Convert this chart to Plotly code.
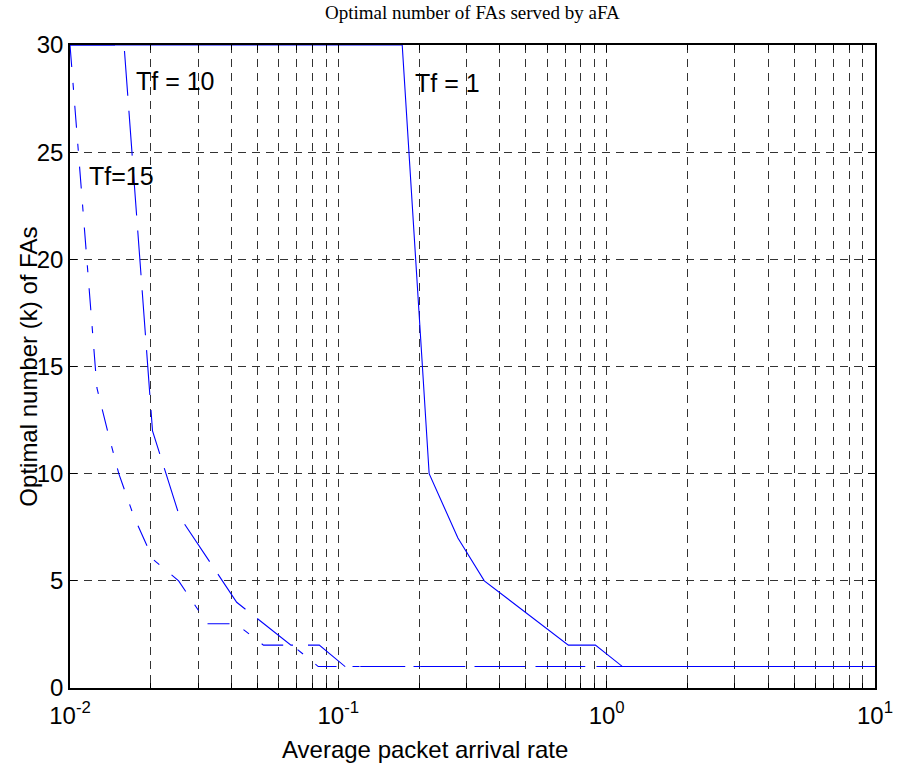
import plotly.graph_objects as go
import math

# Data
tf1_x = [0.01, 0.173, 0.218, 0.279, 0.35, 0.72, 0.908, 1.145, 10]
tf1_y = [30, 30, 10, 7, 5, 2, 2, 1, 1]

tf10_x = [0.01, 0.0159, 0.0203, 0.0256, 0.0418, 0.0666, 0.0849, 0.106, 10]
tf10_y = [30, 30, 12, 8, 4, 2, 2, 1, 1]

tf15_x = [0.01, 0.0126, 0.0138, 0.0152, 0.0173, 0.0204, 0.0254, 0.0325, 0.0415, 0.0526, 0.0673, 0.0842, 10]
tf15_y = [30, 14, 12, 10, 8, 6, 5, 3, 3, 2, 2, 1, 1]

major_x = [0.01, 0.1, 1, 10]
major_x_labels = ["10<sup>-2</sup>", "10<sup>-1</sup>", "10<sup>0</sup>", "10<sup>1</sup>"]
minor_x = [m * 10 ** e for e in (-2, -1, 0) for m in range(2, 10)]
y_ticks = [0, 5, 10, 15, 20, 25, 30]

labels = [("Tf = 10", 0.0173, 28.3), ("Tf=15", 0.01155, 23.9), ("Tf = 1", 0.19, 28.25)]

BLUE = "#0000FF"
GRID = "#333333"
FONT = "Liberation Sans, Arial, sans-serif"

fig = go.Figure()
fig.add_trace(go.Scatter(x=tf1_x, y=tf1_y, mode="lines",
                         line=dict(color=BLUE, width=1.1), showlegend=False))
fig.add_trace(go.Scatter(x=tf10_x, y=tf10_y, mode="lines",
                         line=dict(color=BLUE, width=1.1, dash="45px,15px"), showlegend=False))
fig.add_trace(go.Scatter(x=tf15_x, y=tf15_y, mode="lines",
                         line=dict(color=BLUE, width=1.1, dash="22px,16px,7px,16px"), showlegend=False))

for txt, xv, yv in labels:
    fig.add_annotation(x=math.log10(xv), y=yv, xref="x", yref="y", text=txt,
                       showarrow=False, xanchor="left", yanchor="middle",
                       font=dict(family=FONT, size=25, color="black"))

fig.add_annotation(x=0.441, y=-0.095, xref="paper", yref="paper",
                   text="Average packet arrival rate", showarrow=False,
                   xanchor="center", yanchor="middle",
                   font=dict(family=FONT, size=24, color="black"))
fig.add_annotation(x=-0.052, y=0.5, xref="paper", yref="paper",
                   text="Optimal number (k) of FAs", showarrow=False, textangle=-90,
                   xanchor="center", yanchor="middle",
                   font=dict(family=FONT, size=24, color="black"))
fig.add_annotation(x=0.5, y=1.05, xref="paper", yref="paper",
                   text="Optimal number of FAs served by aFA", showarrow=False,
                   xanchor="center", yanchor="middle",
                   font=dict(family="Liberation Serif, Times New Roman, serif", size=19, color="black"))

fig.update_xaxes(type="log", range=[-2, 1], tickmode="array", tickvals=major_x,
                 ticktext=major_x_labels, ticks="inside", ticklen=7, tickcolor="black",
                 showline=True, linecolor="black", linewidth=1.5, mirror="ticks",
                 showgrid=True, gridcolor=GRID, griddash="8px,6px", gridwidth=1,
                 tickfont=dict(family=FONT, size=24, color="black"), ticklabelstandoff=5,
                 minor=dict(tickmode="array", tickvals=minor_x, ticks="inside", ticklen=5,
                            tickcolor="black", showgrid=True, gridcolor=GRID,
                            griddash="8px,6px", gridwidth=1),
                 zeroline=False)
fig.update_yaxes(range=[0, 30], tickmode="array", tickvals=y_ticks, ticks="inside",
                 ticklen=7, tickcolor="black", showline=True, linecolor="black",
                 linewidth=1.5, mirror="ticks", showgrid=True, gridcolor=GRID,
                 griddash="8px,6px", gridwidth=1, zeroline=False,
                 tickfont=dict(family=FONT, size=24, color="black"))

fig.update_layout(width=905, height=764, margin=dict(l=70, r=19, t=45, b=76),
                  plot_bgcolor="white", paper_bgcolor="white")
fig.write_html("out.html")
